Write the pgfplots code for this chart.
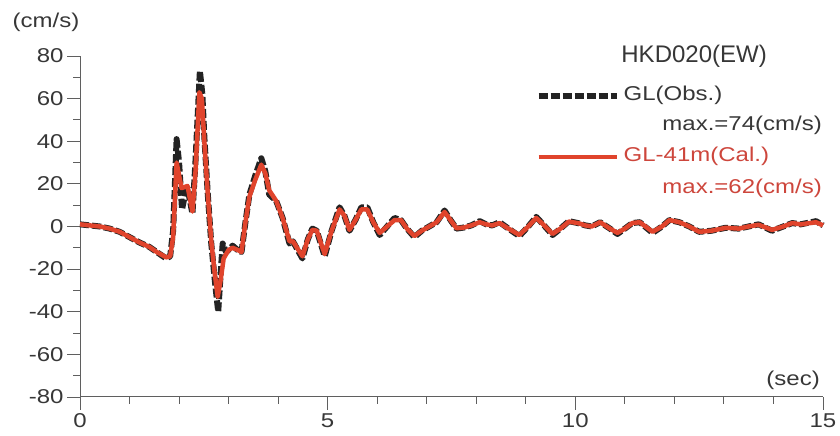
\documentclass[border=0pt]{standalone}
\usepackage{fontspec}
\setmainfont{Liberation Sans}
\newfontfamily\wide{Liberation Sans}[FakeStretch=1.2]
\usepackage{pgfplots}
\pgfplotsset{compat=1.18}
\definecolor{redline}{RGB}{224,68,44}
\definecolor{redtext}{RGB}{205,70,60}
\definecolor{graytext}{RGB}{55,55,55}
\definecolor{axisgray}{RGB}{95,95,95}
\definecolor{obsblack}{RGB}{35,35,35}
\begin{document}
\begin{tikzpicture}
\begin{axis}[
  scale only axis, width=743pt, height=341pt,
  xmin=0, xmax=15, ymin=-80, ymax=80,
  axis x line*=bottom, axis y line*=left,
  axis line style={axisgray, line width=1pt},
  xtick={0,5,10,15}, minor x tick num=4,
  ytick={-80,-60,...,80}, minor y tick num=1,
  tick align=outside,
  major tick length=13pt, minor tick length=7pt,
  tick style={axisgray, line width=0.9pt},
  /pgf/number format/assume math mode=true,
  tick label style={font=\wide\fontsize{20}{20}\selectfont, text=graytext},
  clip=false,
  legend style={draw=none, fill=none, at={(rel axis cs:0.613,0.91)}, anchor=north west,
    inner sep=0pt, row sep=43pt, font=\wide\fontsize{20}{20}\selectfont,
    nodes={inner sep=0pt, text height=14pt, text depth=4pt},
    /tikz/every odd column/.append style={column sep=4pt}},
  legend cell align=left,
  legend image code/.code={\draw[#1] (0pt,0pt) -- (78pt,0pt);},
]
\path (rel axis cs:-0.1077,-0.1144) rectangle (rel axis cs:1.0229,1.1642);

\addplot[obsblack, line width=6pt, line join=round, dash pattern=on 9pt off 3pt] coordinates {
(0,1) (0.2,0.5) (0.4,0) (0.6,-1) (0.8,-2.5) (1.0,-5) (1.2,-7.5) (1.4,-9.6) (1.55,-12)
(1.74,-15) (1.82,-14) (1.88,-2) (1.95,41) (2.0,30) (2.06,8) (2.12,15) (2.17,18) (2.27,6)
(2.33,30) (2.42,73) (2.47,62) (2.51,42) (2.58,15) (2.65,-8) (2.72,-25) (2.79,-40)
(2.84,-22) (2.88,-8) (2.95,-12) (3.0,-11) (3.08,-9) (3.18,-11) (3.26,-12) (3.34,2)
(3.42,15) (3.54,24) (3.66,32) (3.74,26) (3.82,15) (3.96,12) (4.09,4) (4.23,-8) (4.30,-7)
(4.37,-10) (4.49,-15) (4.6,-6) (4.69,-1) (4.78,-2) (4.94,-14) (5.08,-2) (5.24,9) (5.34,5)
(5.44,-2) (5.56,3) (5.68,9) (5.80,9) (5.92,2) (6.05,-4) (6.2,0) (6.35,4) (6.48,3)
(6.6,-1) (6.75,-5) (6.9,-2) (7.05,0) (7.2,2) (7.36,7.5) (7.48,3) (7.60,-1) (7.75,-0.5)
(7.9,0.5) (8.07,2.5) (8.2,1) (8.32,0.5) (8.47,2) (8.65,-1) (8.87,-4.5) (9.05,0) (9.21,4.5)
(9.35,1) (9.54,-4) (9.7,-1) (9.87,2.5) (10.07,1.5) (10.2,0.5) (10.33,0) (10.5,2)
(10.7,-1) (10.85,-3.5) (11.0,-1) (11.15,1.6) (11.3,2) (11.56,-3) (11.75,0) (11.9,3)
(12.1,2) (12.3,0) (12.5,-2.5) (12.75,-2) (13.04,-0.6) (13.3,-1) (13.5,0) (13.7,1)
(13.97,-2) (14.2,0) (14.38,1.6) (14.55,1) (14.86,2.5) (15,0.5)
};
\addlegendentry{\textcolor{graytext}{GL(Obs.)}}

\addplot[redline, line width=4.5pt, line join=round] coordinates {
(0,1) (0.2,0.5) (0.4,0) (0.6,-1) (0.8,-2.5) (1.0,-5) (1.2,-7.5) (1.4,-9.6) (1.55,-12)
(1.74,-14.5) (1.82,-14) (1.88,-5) (1.95,30) (2.05,18) (2.17,19) (2.27,7)
(2.33,25) (2.41,63) (2.46,60) (2.51,40) (2.58,15) (2.65,-7) (2.72,-22) (2.78,-33)
(2.84,-25) (2.90,-15) (3.0,-11) (3.08,-10) (3.18,-11) (3.26,-12) (3.34,2)
(3.42,14) (3.54,22) (3.66,29) (3.74,25) (3.82,17) (3.96,12) (4.09,4) (4.23,-7) (4.30,-7)
(4.37,-9.6) (4.49,-14) (4.6,-6) (4.69,-1.6) (4.78,-2) (4.94,-13) (5.08,-2) (5.24,8) (5.34,5)
(5.44,-1.6) (5.56,3) (5.68,8) (5.80,8) (5.92,2) (6.05,-3) (6.2,0) (6.35,3) (6.48,3)
(6.6,-1) (6.75,-4.5) (6.9,-2) (7.05,0) (7.2,2) (7.36,6.8) (7.48,3) (7.60,-0.8) (7.75,-0.5)
(7.9,0.5) (8.07,2) (8.2,1) (8.32,0.5) (8.47,1.6) (8.65,-1) (8.87,-4) (9.05,0) (9.21,4)
(9.35,1) (9.54,-3.5) (9.7,-1) (9.87,2.3) (10.07,1.5) (10.2,0.5) (10.33,0) (10.5,2)
(10.7,-1) (10.85,-3) (11.0,-1) (11.15,1.6) (11.3,2) (11.56,-2.5) (11.75,0) (11.9,3)
(12.1,2) (12.3,0) (12.5,-2.5) (12.75,-2) (13.04,-0.6) (13.3,-1) (13.5,0) (13.7,0.8)
(13.97,-1.6) (14.2,0) (14.38,1.6) (14.55,1) (14.86,2) (15,0.5)
};
\addlegendentry{\textcolor{redtext}{GL-41m(Cal.)}}

\node[anchor=base east, text=graytext, font=\wide\fontsize{20}{20}\selectfont, inner sep=0pt]
  at (rel axis cs:0.9987,0.78) {max.=74(cm/s)};
\node[anchor=base east, text=redtext, font=\wide\fontsize{20}{20}\selectfont, inner sep=0pt]
  at (rel axis cs:0.9987,0.598) {max.=62(cm/s)};
\node[anchor=base east, text=graytext, font=\fontsize{24}{24}\selectfont, inner sep=0pt]
  at (rel axis cs:0.9246,0.982) {HKD020(EW)};
\node[text=graytext, font=\wide\fontsize{20}{20}\selectfont, inner sep=0pt]
  at (rel axis cs:-0.0458,1.0997) {(cm/s)};
\node[anchor=base east, text=graytext, font=\wide\fontsize{20}{20}\selectfont, inner sep=0pt]
  at (rel axis cs:0.996,0.035) {(sec)};
\end{axis}
\end{tikzpicture}
\end{document}
